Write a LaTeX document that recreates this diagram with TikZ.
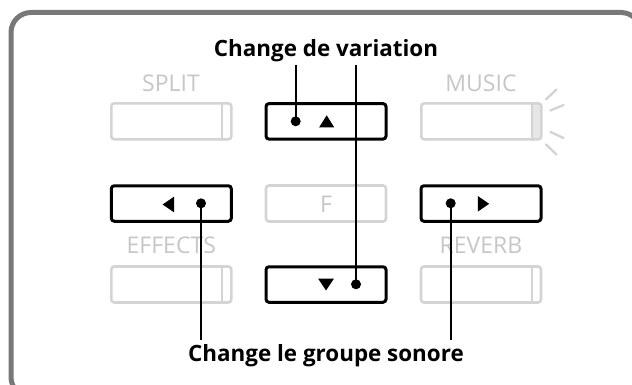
\documentclass[tikz,border=0pt]{standalone}
\usepackage{fontspec}
\setmainfont{Open Sans}
\definecolor{framegray}{HTML}{787878}
\definecolor{btngray}{HTML}{D4D4D4}
\definecolor{labelgray}{HTML}{C6C6C6}
\definecolor{musicfill}{HTML}{E6E6E6}
\begin{document}
\begin{tikzpicture}[x=1pt,y=-1pt,
  gbtn/.style={draw=btngray, line width=2.6pt, rounded corners=3pt,
    minimum width=120pt, minimum height=36pt, inner sep=0pt},
  kbtn/.style={draw=black, line width=3pt, rounded corners=3pt,
    minimum width=120pt, minimum height=35.5pt, inner sep=0pt},
  glabel/.style={text=labelgray, font=\fontsize{23}{23}\selectfont, inner sep=0pt, anchor=base},
  title/.style={font=\bfseries\fontsize{22.4}{22.4}\selectfont, inner sep=0pt, anchor=base},
  dot/.style={circle, fill=black, inner sep=0pt, minimum size=10pt},
  conn/.style={line width=1.6pt},
  divider/.style={draw=btngray, line width=2.2pt},
  ray/.style={draw=btngray, line width=2.4pt, line cap=round},
  uptri/.pic={\fill (-7.5,6) -- (7.5,6) -- (0,-6) -- cycle;},
  downtri/.pic={\fill (-8,-6) -- (8,-6) -- (0,6) -- cycle;},
  lefttri/.pic={\fill (5.7,-7.8) -- (5.7,7.8) -- (-5.7,0) -- cycle;},
  righttri/.pic={\fill (-5.7,-7.8) -- (-5.7,7.8) -- (5.7,0) -- cycle;}
]
\useasboundingbox (0,0) rectangle (632,385);
\begin{scope}
  \clip (0,0) rectangle (632,385);
  \draw[framegray, line width=5pt, rounded corners=20pt] (11,12.5) rectangle (641,397);
\end{scope}

% labels
\node[glabel] (lsplit) at (171,91.5) {SPLIT};
\node[glabel] (lmusic) at (481,91.5) {MUSIC};
\node[glabel] (leffects) at (171.3,253.3) {EFFECTS};
\node[glabel] (lreverb) at (481,253.3) {REVERB};

% gray buttons
\node[gbtn] (split) at (171.3,121.35) {};
\draw[divider] ([xshift=-10.5pt]split.north east) -- ([xshift=-10.5pt]split.south east);
\node[gbtn, path picture={\fill[musicfill] ([xshift=-10.5pt]path picture bounding box.north east) rectangle (path picture bounding box.south east);}] (music) at (481.3,121.35) {};
\draw[divider] ([xshift=-10.5pt]music.north east) -- ([xshift=-10.5pt]music.south east);
\node[gbtn] (fbtn) at (326,203.5) {};
\node[glabel] (lf) at (326,212.5) {F};
\node[gbtn] (effects) at (171.3,284.5) {};
\draw[divider] ([xshift=-10.5pt]effects.north east) -- ([xshift=-10.5pt]effects.south east);
\node[gbtn] (reverb) at (481,284.5) {};
\draw[divider] ([xshift=-10.5pt]reverb.north east) -- ([xshift=-10.5pt]reverb.south east);

% rays
\draw[ray] (546,99.3) -- (556.5,89.5);
\draw[ray] (550.5,110.5) -- (563.5,105);
\draw[ray] (550.5,132) -- (563.5,138);
\draw[ray] (546,144.5) -- (556.5,154.5);

% black buttons
\node[kbtn] (up) at (326,121.35) {};
\node[kbtn] (down) at (326,284.5) {};
\node[kbtn] (left) at (171.3,203.5) {};
\node[kbtn] (right) at (481,203.5) {};

\pic at (326.7,121.3) {uptri};
\pic at (326,284.5) {downtri};
\pic at (168.3,204.5) {lefttri};
\pic at (483.5,203.8) {righttri};

\node[dot] (dup) at (295.7,121.3) {};
\node[dot] (ddown) at (356,284.3) {};
\node[dot] (dleft) at (201,203.3) {};
\node[dot] (dright) at (450.7,203.3) {};

% titles
\node[title] (ttop) at (326,56.7) {Change de variation};
\node[title] (tbot) at (326,361.7) {Change le groupe sonore};

\coordinate (cup) at (295.7,65);
\coordinate (cdown) at (356,65);
\coordinate (cleft) at (201,340);
\coordinate (cright) at (450.7,340);

\draw[conn] (cup) -- (dup.center);
\draw[conn] (cdown) -- (ddown.center);
\draw[conn] (cleft) -- (dleft.center);
\draw[conn] (cright) -- (dright.center);
\end{tikzpicture}
\end{document}
